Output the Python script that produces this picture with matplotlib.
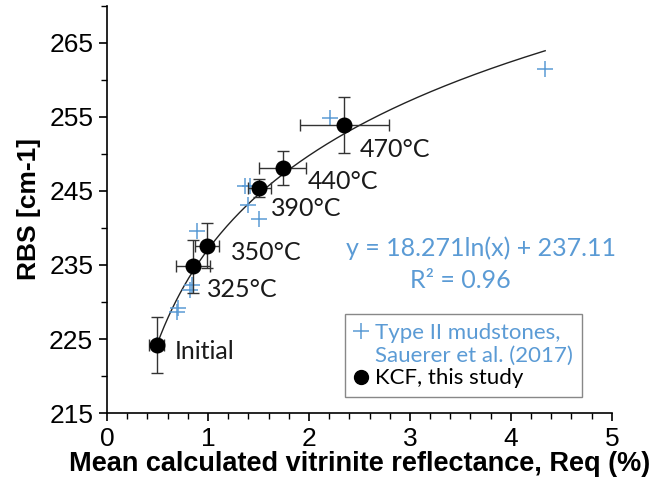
import numpy as np
import matplotlib
matplotlib.use("Agg")
import matplotlib.pyplot as plt
from matplotlib.lines import Line2D

# KCF, this study
kcf_x = [0.49, 0.85, 0.99, 1.51, 1.74, 2.35]
kcf_y = [224.2, 234.8, 237.6, 245.4, 248.1, 253.9]
kcf_xerr = [0.07, 0.17, 0.12, 0.11, 0.23, 0.44]
kcf_yerr = [3.75, 3.6, 3.0, 1.2, 2.35, 3.8]
kcf_labels = ["Initial", "325°C", "350°C", "390°C", "440°C", "470°C"]
label_x = [0.67, 0.99, 1.23, 1.62, 1.99, 2.50]
label_y = [223.3, 231.7, 236.7, 242.6, 246.3, 250.6]

# Type II mudstones, Sauerer et al. (2017)
sau_x = [0.49, 0.69, 0.70, 0.82, 0.84, 0.89, 1.37, 1.42, 1.40, 1.51, 2.21, 4.34]
sau_y = [224.2, 228.6, 229.2, 231.6, 232.3, 239.6, 245.6, 245.7, 243.1, 241.2, 254.8, 261.5]

# trend line y = a ln(x) + b
fit_a = 18.271
fit_b = 237.11
fit_range = [0.49, 4.34]

x_ticks = [0, 1, 2, 3, 4, 5]
y_ticks = [215, 225, 235, 245, 255, 265]
legend_labels = ["Type II mudstones,", "Sauerer et al. (2017)", "KCF, this study"]

blue = "#5B9BD5"
calib = ["Lato", "DejaVu Sans"]

fig = plt.figure(figsize=(6.65, 4.82), dpi=100)
ax = fig.add_axes([0.161, 0.143, 0.759, 0.845])

xf = np.linspace(fit_range[0], fit_range[1], 300)
ax.plot(xf, fit_a * np.log(xf) + fit_b, color="#222222", lw=1.0, zorder=2)

ax.plot(sau_x, sau_y, linestyle="none", marker="+", ms=12, mew=1.1,
        color=blue, zorder=3)

ax.errorbar(kcf_x, kcf_y, xerr=kcf_xerr, yerr=kcf_yerr, fmt="o", ms=10.5,
            color="black", ecolor="#333333", elinewidth=1.0, capsize=4.5,
            capthick=1.0, zorder=4)

for lx, ly, t in zip(label_x, label_y, kcf_labels):
    ax.text(lx, ly, t, fontsize=18, family=calib, color="#1a1a1a",
            ha="left", va="center", zorder=5)

ax.text(3.70, 237.3, "y = 18.271ln(x) + 237.11", fontsize=18, family=calib,
        color=blue, ha="center", va="center")
ax.text(3.50, 232.9, "R² = 0.96", fontsize=18, family=calib,
        color=blue, ha="center", va="center")

handles = [Line2D([], [], linestyle="none", marker="+", ms=12, mew=1.1, color=blue),
           Line2D([], [], linestyle="none", marker="none"),
           Line2D([], [], linestyle="none", marker="o", ms=10, color="black")]
leg = ax.legend(handles, legend_labels,
                loc="lower left", bbox_to_anchor=(0.472, 0.039), frameon=True,
                fancybox=False, edgecolor="#888888", framealpha=1,
                prop={"family": calib, "size": 16}, handlelength=0.6,
                handletextpad=0.35, borderpad=0.4, labelspacing=0.12,
                borderaxespad=0)
leg.get_frame().set_linewidth(1.0)
txts = leg.get_texts()
txts[0].set_color(blue)
txts[1].set_color(blue)
txts[2].set_color("black")

ax.set_xlim(0, 5)
ax.set_ylim(215, 270)
ax.set_xticks(x_ticks)
ax.set_yticks(y_ticks)
ax.set_xticks(np.arange(0, 5.01, 0.2), minor=True)
ax.set_yticks(np.arange(215, 270.1, 5), minor=True)
ax.spines["top"].set_visible(False)
ax.spines["right"].set_visible(False)
for s in ("left", "bottom"):
    ax.spines[s].set_linewidth(1.2)
ax.tick_params(which="major", direction="out", length=6, width=1.2,
               labelsize=19, pad=4)
ax.tick_params(which="minor", direction="out", length=4, width=1.0)
for lab in ax.get_xticklabels() + ax.get_yticklabels():
    lab.set_family("Liberation Sans")

ax.set_xlabel("Mean calculated vitrinite reflectance, Req (%)", fontsize=19.5,
              family="Liberation Sans", fontweight="bold", labelpad=0)
ax.set_ylabel("RBS [cm-1]", fontsize=19, family="Liberation Sans",
              fontweight="bold", labelpad=6)

fig.savefig("out.png", dpi=100)
